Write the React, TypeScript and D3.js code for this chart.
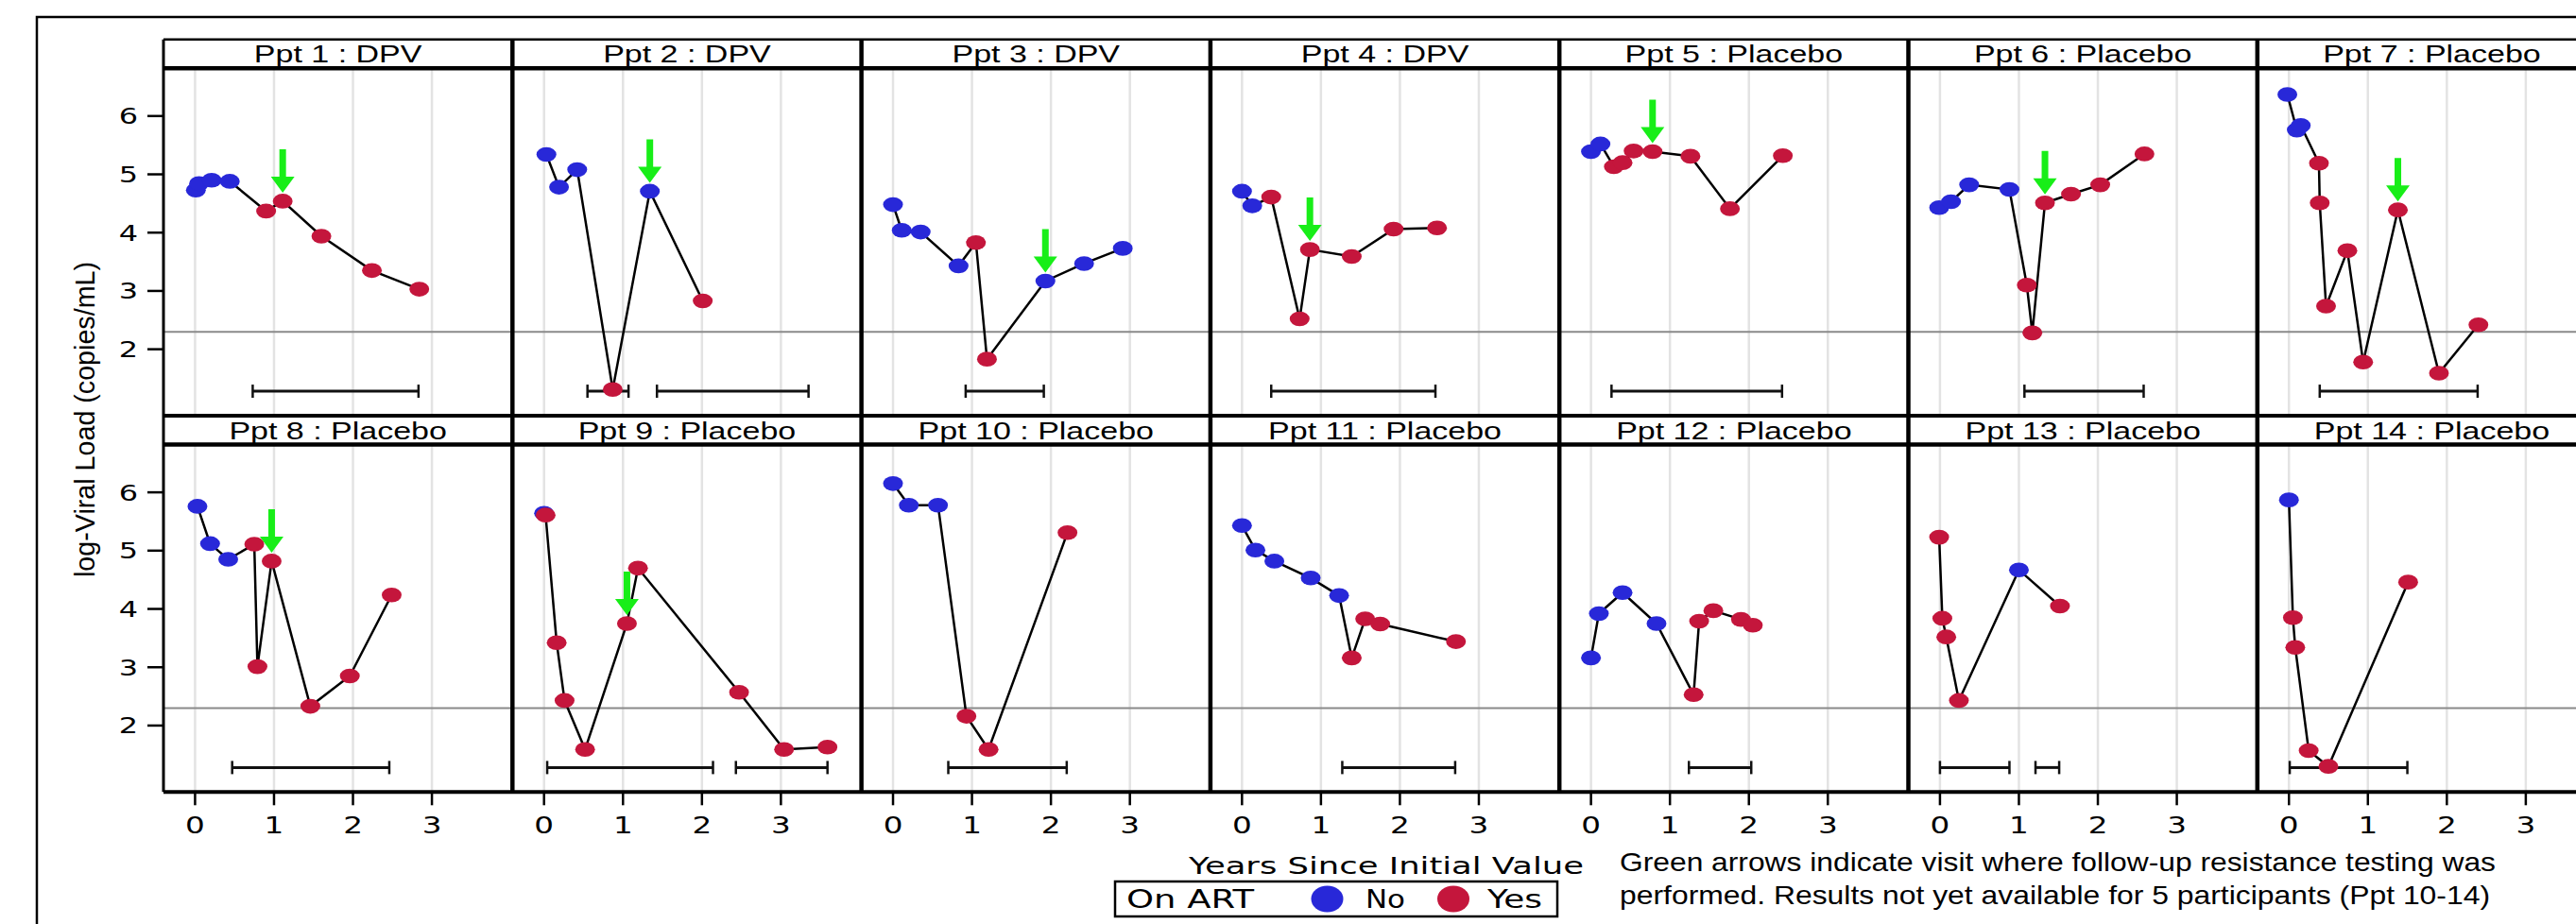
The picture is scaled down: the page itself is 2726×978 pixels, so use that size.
import React, { useEffect, useRef } from "react";
import * as d3 from "d3";

// participant panels (row-major, 7 per row)
const panelTitles = [
  "Ppt 1 : DPV", "Ppt 2 : DPV", "Ppt 3 : DPV", "Ppt 4 : DPV",
  "Ppt 5 : Placebo", "Ppt 6 : Placebo", "Ppt 7 : Placebo",
  "Ppt 8 : Placebo", "Ppt 9 : Placebo", "Ppt 10 : Placebo", "Ppt 11 : Placebo",
  "Ppt 12 : Placebo", "Ppt 13 : Placebo", "Ppt 14 : Placebo",
];

// years since initial value
const years = [
  [0.01, 0.05, 0.21, 0.44, 0.9, 1.11, 1.6, 2.24, 2.84],
  [0.03, 0.19, 0.42, 0.87, 1.34, 2.01],
  [0.0, 0.11, 0.35, 0.83, 1.05, 1.19, 1.93, 2.42, 2.91],
  [0.0, 0.13, 0.37, 0.73, 0.86, 1.39, 1.92, 2.47],
  [0.0, 0.12, 0.29, 0.4, 0.54, 0.78, 1.26, 1.76, 2.43],
  [-0.01, 0.14, 0.37, 0.88, 1.1, 1.17, 1.33, 1.66, 2.03, 2.59],
  [-0.02, 0.1, 0.15, 0.38, 0.39, 0.47, 0.74, 0.94, 1.38, 1.9, 2.4],
  [0.03, 0.19, 0.42, 0.75, 0.79, 0.97, 1.46, 1.96, 2.49],
  [0.0, 0.02, 0.16, 0.26, 0.52, 1.05, 1.19, 2.47, 3.04, 3.59],
  [0.0, 0.2, 0.57, 0.93, 1.21, 2.21],
  [0.0, 0.17, 0.41, 0.87, 1.23, 1.39, 1.56, 1.75, 2.71],
  [0.0, 0.1, 0.4, 0.83, 1.3, 1.37, 1.55, 1.9, 2.05],
  [-0.01, 0.03, 0.08, 0.24, 1.0, 1.52],
  [0.0, 0.05, 0.08, 0.25, 0.5, 1.51],
];

// log10 viral load
const logVL = [
  [4.73, 4.84, 4.9, 4.88, 4.37, 4.54, 3.94, 3.35, 3.03],
  [5.34, 4.78, 5.08, 1.31, 4.71, 2.83],
  [4.48, 4.04, 4.01, 3.43, 3.83, 1.83, 3.17, 3.47, 3.73],
  [4.71, 4.46, 4.61, 2.52, 3.71, 3.59, 4.06, 4.08],
  [5.39, 5.52, 5.13, 5.2, 5.4, 5.39, 5.31, 4.41, 5.32],
  [4.43, 4.53, 4.82, 4.74, 3.1, 2.28, 4.51, 4.66, 4.82, 5.35],
  [6.37, 5.76, 5.84, 5.19, 4.51, 2.74, 3.69, 1.78, 4.39, 1.59, 2.42],
  [5.76, 5.12, 4.85, 5.11, 3.01, 4.82, 2.33, 2.85, 4.24],
  [5.64, 5.61, 3.42, 2.43, 1.59, 3.75, 4.7, 2.57, 1.59, 1.63],
  [6.15, 5.78, 5.78, 2.16, 1.59, 5.31],
  [5.43, 5.01, 4.82, 4.53, 4.23, 3.16, 3.83, 3.74, 3.44],
  [3.16, 3.92, 4.28, 3.75, 2.53, 3.79, 3.97, 3.82, 3.72],
  [5.23, 3.84, 3.52, 2.43, 4.67, 4.05],
  [5.87, 3.85, 3.34, 1.57, 1.3, 4.46],
];

// on ART: 0 = No, 1 = Yes
const onArt = [
  [0, 0, 0, 0, 1, 1, 1, 1, 1],
  [0, 0, 0, 1, 0, 1],
  [0, 0, 0, 0, 1, 1, 0, 0, 0],
  [0, 0, 1, 1, 1, 1, 1, 1],
  [0, 0, 1, 1, 1, 1, 1, 1, 1],
  [0, 0, 0, 0, 1, 1, 1, 1, 1, 1],
  [0, 0, 0, 1, 1, 1, 1, 1, 1, 1, 1],
  [0, 0, 0, 1, 1, 1, 1, 1, 1],
  [0, 1, 1, 1, 1, 1, 1, 1, 1, 1],
  [0, 0, 0, 1, 1, 1],
  [0, 0, 0, 0, 0, 1, 1, 1, 1],
  [0, 0, 0, 0, 1, 1, 1, 1, 1],
  [1, 1, 1, 1, 0, 1],
  [0, 1, 1, 1, 1, 1],
];

// index of visit with follow-up resistance testing (-1 = none)
const arrowAt = [5, 4, 6, 4, 5, 6, 8, 5, 5, -1, -1, -1, -1, -1];

// interval bars [start, end] in years
const intervals = [
  [[0.73, 2.83]],
  [[0.55, 1.07], [1.43, 3.35]],
  [[0.92, 1.91]],
  [[0.37, 2.45]],
  [[0.26, 2.42]],
  [[1.07, 2.58]],
  [[0.39, 2.39]],
  [[0.47, 2.46]],
  [[0.04, 2.14], [2.43, 3.59]],
  [[0.7, 2.2]],
  [[1.27, 2.7]],
  [[1.24, 2.03]],
  [[0.0, 0.88], [1.21, 1.51]],
  [[0.01, 1.5]],
];

const yTicks = [2, 3, 4, 5, 6];
const xTicks = [0, 1, 2, 3];
const refLine = 2.3;
const barLevel = 1.28;

const BLUE = "#2828d8";
const RED = "#c4163c";
const GREEN = "#18ee18";
const SX = 1.36; // horizontal stretch of the graph text

const App = () => {
  const ref = useRef(null);

  useEffect(() => {
    const svg = d3.select(ref.current);
    svg.selectAll("*").remove();

    const panelW = 369.3;
    const left0 = 173;
    const rowTop = [41.7, 440];
    const headH = 30.5;
    const plotH = 367.8;
    const rightEdge = left0 + 7 * panelW;

    const yScales = rowTop.map((t) =>
      d3.scaleLinear().domain([0.86, 6.82]).range([t + headH + plotH, t + headH])
    );
    const xScale = (col) =>
      d3.scaleLinear().domain([-0.4, 4.02]).range([left0 + col * panelW, left0 + (col + 1) * panelW]);

    // outer frame
    svg.append("rect")
      .attr("x", 39).attr("y", 18)
      .attr("width", 3000).attr("height", 1100)
      .attr("fill", "none").attr("stroke", "#000").attr("stroke-width", 2.5);

    const g = svg.append("g");

    panelTitles.forEach((title, i) => {
      const row = Math.floor(i / 7);
      const col = i % 7;
      const x = xScale(col);
      const y = yScales[row];
      const p = g.append("g");

      // grid
      p.selectAll(".grid").data(xTicks).enter().append("line")
        .attr("x1", (d) => x(d)).attr("x2", (d) => x(d))
        .attr("y1", y.range()[1]).attr("y2", y.range()[0])
        .attr("stroke", "#e3e3e3").attr("stroke-width", 2.5);

      // reference line
      p.append("line")
        .attr("x1", x.range()[0]).attr("x2", x.range()[1])
        .attr("y1", y(refLine)).attr("y2", y(refLine))
        .attr("stroke", "#8a8a8a").attr("stroke-width", 2);

      // interval bars
      intervals[i].forEach((b) => {
        const by = y(barLevel);
        p.append("line")
          .attr("x1", x(b[0])).attr("x2", x(b[1]))
          .attr("y1", by).attr("y2", by)
          .attr("stroke", "#111").attr("stroke-width", 3);
        b.forEach((e) => {
          p.append("line")
            .attr("x1", x(e)).attr("x2", x(e))
            .attr("y1", by - 7).attr("y2", by + 7)
            .attr("stroke", "#111").attr("stroke-width", 2.5);
        });
      });

      const pts = years[i].map((t, k) => ({ t: t, v: logVL[i][k], art: onArt[i][k] }));

      const line = d3.line().x((d) => x(d.t)).y((d) => y(d.v));
      p.append("path")
        .attr("d", line(pts))
        .attr("fill", "none").attr("stroke", "#000").attr("stroke-width", 2.5);

      p.selectAll(".dot").data(pts).enter().append("ellipse")
        .attr("cx", (d) => x(d.t)).attr("cy", (d) => y(d.v))
        .attr("rx", 10.5).attr("ry", 7.8)
        .attr("fill", (d) => (d.art ? RED : BLUE));

      if (arrowAt[i] >= 0) {
        const a = pts[arrowAt[i]];
        const cx = x(a.t);
        const tip = y(a.v) - 9;
        const pathD = [
          [cx - 3.5, tip - 46], [cx + 3.5, tip - 46], [cx + 3.5, tip - 17],
          [cx + 12.5, tip - 17], [cx, tip], [cx - 12.5, tip - 17], [cx - 3.5, tip - 17],
        ];
        p.append("path")
          .attr("d", "M" + pathD.map((q) => q.join(",")).join("L") + "Z")
          .attr("fill", GREEN);
      }

      // header
      const top = rowTop[row];
      p.append("rect")
        .attr("x", x.range()[0]).attr("y", top)
        .attr("width", panelW).attr("height", headH)
        .attr("fill", "#fff");
      p.append("text")
        .attr("transform", "translate(" + (x.range()[0] + panelW / 2) + "," + (top + 24.5) + ") scale(" + SX + ",1)")
        .attr("text-anchor", "middle")
        .attr("font-family", "Liberation Sans, Arial, sans-serif")
        .attr("font-size", 25)
        .text(title);
    });

    // frame lines
    rowTop.forEach((t, row) => {
      const y = yScales[row];
      const bottom = y.range()[0];
      g.append("line").attr("x1", left0).attr("x2", rightEdge).attr("y1", t).attr("y2", t)
        .attr("stroke", "#000").attr("stroke-width", row === 0 ? 2.5 : 4);
      g.append("line").attr("x1", left0).attr("x2", rightEdge).attr("y1", t + headH).attr("y2", t + headH)
        .attr("stroke", "#000").attr("stroke-width", 4.5);
      g.append("line").attr("x1", left0).attr("x2", rightEdge).attr("y1", bottom).attr("y2", bottom)
        .attr("stroke", "#000").attr("stroke-width", 4);
      for (let c = 0; c <= 7; c++) {
        const xx = left0 + c * panelW;
        g.append("line").attr("x1", xx).attr("x2", xx).attr("y1", t).attr("y2", bottom)
          .attr("stroke", "#000").attr("stroke-width", c === 0 ? 3 : 4.5);
      }

      // y axis
      yTicks.forEach((v) => {
        g.append("line").attr("x1", left0 - 17).attr("x2", left0).attr("y1", y(v)).attr("y2", y(v))
          .attr("stroke", "#000").attr("stroke-width", 2.5);
        g.append("text")
          .attr("transform", "translate(" + (left0 - 27) + "," + (y(v) + 8.5) + ") scale(" + SX + ",1)")
          .attr("text-anchor", "end")
          .attr("font-family", "DejaVu Sans, sans-serif")
          .attr("font-size", 23.5)
          .text(v);
      });
    });

    // x axis ticks
    const axisY = yScales[1].range()[0];
    for (let c = 0; c < 7; c++) {
      const x = xScale(c);
      xTicks.forEach((t) => {
        g.append("line").attr("x1", x(t)).attr("x2", x(t)).attr("y1", axisY).attr("y2", axisY + 14)
          .attr("stroke", "#000").attr("stroke-width", 2.5);
        g.append("text")
          .attr("transform", "translate(" + x(t) + "," + (axisY + 44) + ") scale(" + SX + ",1)")
          .attr("text-anchor", "middle")
          .attr("font-family", "DejaVu Sans, sans-serif")
          .attr("font-size", 24)
          .text(t);
      });
    }

    // y axis title
    g.append("text")
      .attr("transform", "translate(100,444) rotate(-90)")
      .attr("text-anchor", "middle")
      .attr("font-family", "Liberation Sans, Arial, sans-serif")
      .attr("font-size", 30)
      .attr("textLength", 334)
      .attr("lengthAdjust", "spacingAndGlyphs")
      .text("log-Viral Load (copies/mL)");

    // x axis title
    g.append("text")
      .attr("x", 1258).attr("y", 925)
      .attr("font-family", "DejaVu Sans, sans-serif")
      .attr("font-size", 24)
      .attr("textLength", 418)
      .attr("lengthAdjust", "spacingAndGlyphs")
      .text("Years Since Initial Value");

    // legend
    g.append("rect")
      .attr("x", 1180).attr("y", 933).attr("width", 468).attr("height", 37)
      .attr("fill", "#fff").attr("stroke", "#000").attr("stroke-width", 2.5);
    const legendText = [
      { x: 1192, w: 135, s: "On ART" },
      { x: 1445, w: 42, s: "No" },
      { x: 1574, w: 58, s: "Yes" },
    ];
    legendText.forEach((d) => {
      g.append("text")
        .attr("x", d.x).attr("y", 961)
        .attr("font-family", "DejaVu Sans, sans-serif")
        .attr("font-size", 27)
        .attr("textLength", d.w)
        .attr("lengthAdjust", "spacingAndGlyphs")
        .text(d.s);
    });
    g.append("ellipse").attr("cx", 1404.5).attr("cy", 951.5).attr("rx", 17).attr("ry", 14).attr("fill", BLUE);
    g.append("ellipse").attr("cx", 1538).attr("cy", 951.5).attr("rx", 17).attr("ry", 14).attr("fill", RED);

    // note
    const note = [
      { y: 921.5, w: 927, s: "Green arrows indicate visit where follow-up resistance testing was" },
      { y: 956.5, w: 921, s: "performed. Results not yet available for 5 participants (Ppt 10-14)" },
    ];
    note.forEach((d) => {
      g.append("text")
        .attr("x", 1714).attr("y", d.y)
        .attr("font-family", "Liberation Sans, Arial, sans-serif")
        .attr("font-size", 28)
        .attr("textLength", d.w)
        .attr("lengthAdjust", "spacingAndGlyphs")
        .text(d.s);
    });
  }, []);

  return (
    <svg
      ref={ref}
      width={2726}
      height={978}
      style={{ position: "absolute", left: 0, top: 0, background: "#fff" }}
    />
  );
};

export default App;
